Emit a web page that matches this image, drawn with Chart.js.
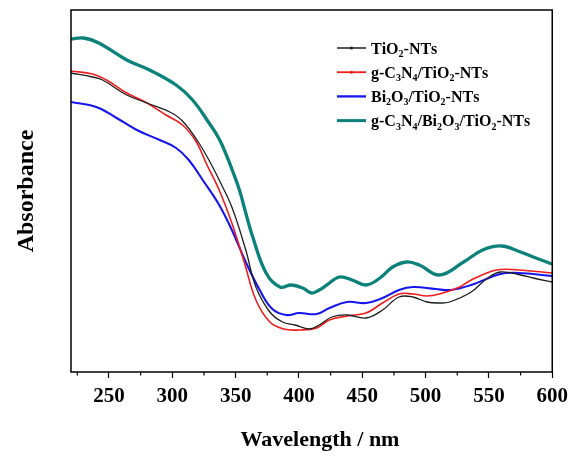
<!DOCTYPE html>
<html>
<head>
<meta charset="utf-8">
<script src="https://cdn.jsdelivr.net/npm/chart.js@4"></script>
<style>
  html, body { margin: 0; padding: 0; background: #fff; }
  #box { width: 574px; height: 456px; }
</style>
</head>
<body>
<div id="box"><canvas id="mycanvas" width="574" height="456"></canvas></div>
<script>
// wavelengths (nm) and absorbance
var tiWl  = [220,237,245,264,280,298,308,321,331,337,347,358,366,377,387,397,408,416,426,438,453,466,479,490,501,511,519,536,548,559,575,585,600];
var tiAbs = [2.99,2.95,2.92,2.77,2.69,2.60,2.51,2.29,2.07,1.92,1.65,1.22,0.85,0.60,0.50,0.47,0.43,0.47,0.55,0.57,0.54,0.62,0.75,0.75,0.70,0.69,0.70,0.80,0.93,1.00,0.97,0.94,0.90];

var cnWl  = [220,237,248,264,280,295,308,319,327,337,347,357,366,377,388,400,414,424,438,453,466,479,490,501,511,527,536,556,573,600];
var cnAbs = [3.01,2.98,2.92,2.79,2.69,2.57,2.47,2.30,2.08,1.82,1.49,1.09,0.72,0.50,0.43,0.42,0.44,0.52,0.56,0.59,0.69,0.78,0.78,0.76,0.78,0.85,0.92,1.02,1.02,0.99];

var biWl  = [220,240,256,272,290,303,313,324,337,347,358,369,379,390,400,414,424,438,453,466,479,490,508,520,536,559,573,600];
var biAbs = [2.70,2.65,2.54,2.42,2.32,2.24,2.12,1.92,1.67,1.42,1.10,0.82,0.63,0.57,0.59,0.58,0.64,0.70,0.69,0.74,0.82,0.85,0.83,0.82,0.87,0.98,0.99,0.96];

var cbWl  = [220,230,242,264,282,303,316,329,337,343,347,353,358,363,374,385,394,403,410,416,422,432,442,453,464,474,485,495,511,530,545,560,575,585,600];
var cbAbs = [3.33,3.34,3.29,3.12,3.02,2.87,2.72,2.49,2.33,2.16,2.03,1.82,1.59,1.37,0.99,0.85,0.87,0.84,0.79,0.82,0.87,0.95,0.92,0.87,0.94,1.05,1.10,1.07,0.97,1.10,1.22,1.26,1.20,1.15,1.08];

// "_x" = subscript
var labels = ['TiO_2-NTs', 'g-C_3N_4/TiO_2-NTs', 'Bi_2O_3/TiO_2-NTs', 'g-C_3N_4/Bi_2O_3/TiO_2-NTs'];
var colors = ['#1e1e1e', '#ee1c1c', '#1515ee', '#0b8279'];
var widths = [1.3, 1.6, 2.1, 3.3];

var xTicks = [250, 300, 350, 400, 450, 500, 550, 600];

function pts(xs, ys) {
  var out = [];
  for (var i in xs) out.push({x: xs[i], y: ys[i]});
  return out;
}

var series = [pts(tiWl, tiAbs), pts(cnWl, cnAbs), pts(biWl, biAbs), pts(cbWl, cbAbs)];
var datasets = [];
for (var i = 0; i < series.length; i++) {
  datasets.push({
    label: labels[i],
    data: series[i],
    borderColor: colors[i],
    borderWidth: widths[i],
    pointRadius: 0,
    fill: false,
    tension: 0.4
  });
}

var serif = "'Liberation Serif', 'Times New Roman', serif";

// frame, minor ticks, x title and legend with subscripts
var decor = {
  id: 'decor',
  afterDraw: function(chart) {
    var c = chart.ctx, a = chart.chartArea, xs = chart.scales.x;
    c.save();
    c.strokeStyle = '#000';
    c.lineWidth = 1.5;
    c.strokeRect(a.left, a.top, a.right - a.left, a.bottom - a.top);

    c.lineWidth = 1.2;
    for (var v = 225; v < 600; v += 50) {
      var px = xs.getPixelForValue(v);
      c.beginPath();
      c.moveTo(px, a.bottom);
      c.lineTo(px, a.bottom + 3.5);
      c.stroke();
    }

    c.fillStyle = '#000';
    c.font = 'bold 22px ' + serif;
    c.textAlign = 'center';
    c.textBaseline = 'alphabetic';
    c.fillText('Wavelength / nm', 320, 446);
    c.textAlign = 'left';

    var lx = 337, ly = 48, gap = 24.2;
    for (var k = 0; k < labels.length; k++) {
      var y = ly + k * gap;
      c.strokeStyle = colors[k];
      c.lineWidth = widths[k] > 3 ? 3 : widths[k] + 0.2;
      c.beginPath();
      c.moveTo(lx, y);
      c.lineTo(lx + 29, y);
      c.stroke();
      if (k < 2) {
        c.fillStyle = colors[k];
        c.beginPath();
        c.arc(lx + 14.5, y, 1.5, 0, Math.PI * 2);
        c.fill();
      }
      var tx = lx + 34, s = labels[k];
      c.fillStyle = '#000';
      for (var j = 0; j < s.length; j++) {
        if (s[j] === '_') {
          j++;
          c.font = 'bold 10px ' + serif;
          c.fillText(s[j], tx, y + 9);
          tx += c.measureText(s[j]).width;
        } else {
          c.font = 'bold 16px ' + serif;
          c.fillText(s[j], tx, y + 5.5);
          tx += c.measureText(s[j]).width;
        }
      }
    }
    c.restore();
  }
};

var ctx = document.getElementById('mycanvas');
var chart = new Chart(ctx, {
  type: 'line',
  data: { datasets: datasets },
  plugins: [decor],
  options: {
    responsive: false,
    animation: false,
    layout: { padding: { left: 0, right: 21, top: 10, bottom: 0 } },
    plugins: { legend: { display: false }, tooltip: { enabled: false } },
    scales: {
      x: {
        type: 'linear',
        min: 220,
        max: 600,
        afterFit: function(scale) { scale.height = 84; },
        afterBuildTicks: function(scale) {
          scale.ticks = xTicks.map(function(v) { return {value: v}; });
        },
        border: { display: false },
        grid: { drawOnChartArea: false, drawTicks: true, tickLength: 6, tickWidth: 1.2, color: '#000' },
        ticks: {
          color: '#000',
          padding: 6,
          maxRotation: 0,
          font: { family: serif, size: 21, weight: 'bold' }
        },
        title: { display: false }
      },
      y: {
        min: 0,
        max: 3.62,
        afterFit: function(scale) { scale.width = 71; },
        border: { display: false },
        grid: { display: false },
        ticks: { display: false },
        title: {
          display: true,
          text: 'Absorbance',
          color: '#000',
          padding: { top: 12, bottom: 0 },
          font: { family: serif, size: 24, weight: 'bold' }
        }
      }
    }
  }
});
</script>
</body>
</html>
